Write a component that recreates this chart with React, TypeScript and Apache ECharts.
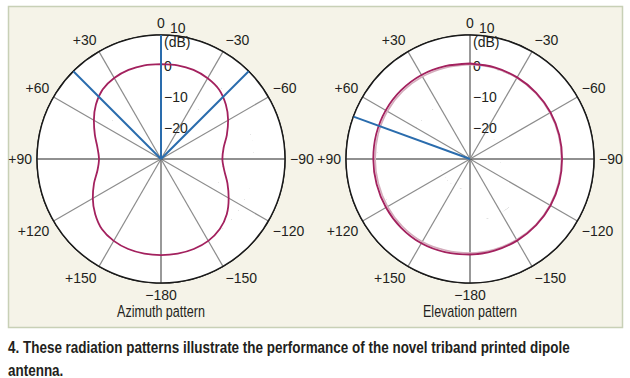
import React, { useEffect, useRef } from 'react';
import * as echarts from 'echarts';

const MINUS = '\u2212';
const FONT = "'Liberation Sans', Arial, sans-serif";

// Angle values: 0 = top, counter-clockwise positive (left side "+"), 180..360 = right side ("−")
const azimuthAngles = [0, 10, 20, 30, 40, 50, 60, 70, 80, 90, 100, 110, 120, 130, 140, 150, 160, 170, 180,
  190, 200, 210, 220, 230, 240, 250, 260, 270, 280, 290, 300, 310, 320, 330, 340, 350, 360];
const azimuthDb = [0.6, 0.7, 0.6, 0.2, -0.7, -2.6, -5.0, -7.3, -9.2, -10.0, -9.2, -7.0, -4.6, -2.3, -0.4, 0.5, 0.9, 1.0, 1.0,
  1.0, 0.9, 0.5, -0.5, -2.3, -4.8, -7.2, -9.3, -10.2, -9.5, -7.4, -5.0, -2.7, -0.8, 0.1, 0.6, 0.7, 0.6];

const elevationAngles = [0, 15, 30, 45, 60, 75, 90, 105, 120, 135, 150, 165, 180,
  195, 210, 225, 240, 255, 270, 285, 300, 315, 330, 345, 360];
const elevationDb = [0.8, 1.0, 1.3, 1.4, 1.4, 1.3, 1.2, 1.2, 1.3, 1.4, 1.4, 1.1, 0.8,
  0.6, 0.4, 0.2, 0.0, -0.2, -0.3, -0.2, 0.0, 0.2, 0.4, 0.6, 0.8];
const elevationRefDb = [0.5, 0.5, 0.7, 0.8, 0.8, 0.7, 0.6, 0.6, 0.7, 0.8, 0.8, 0.5, 0.3,
  0.2, 0.1, 0.0, -0.2, -0.4, -0.5, -0.4, -0.2, 0.0, 0.2, 0.4, 0.5];

const azimuthMarkers = [0, 45, 315];
const elevationMarkers = [70];

const radiusMin = -30;
const radiusMax = 10;
const radiusStep = 10;

const titles = ['Azimuth pattern', 'Elevation pattern'];
const titleWidths = [88, 94];
const captionLines = [
  '4. These radiation patterns illustrate the performance of the novel triband printed dipole',
  'antenna.',
];
const captionWidth = 562;

function angleLabel(v: number): string {
  if (v === 0) return '0';
  if (v >= 360) return '';
  if (v < 180) return '+' + v;
  if (v === 180) return MINUS + '180';
  return MINUS + (360 - v);
}

function radiusLabel(v: number): string {
  if (v === radiusMin) return '';
  if (v === radiusMax) return '{a|10}\n{b|(dB)}';
  if (v < 0) return MINUS + (-v);
  return String(v);
}

function measure(text: string, font: string): number {
  const c = document.createElement('canvas').getContext('2d');
  if (!c) return text.length * 7;
  c.font = font;
  return c.measureText(text).width;
}

const spokeColors = ['#555', '#8c8c8c', '#8c8c8c', '#222', '#8c8c8c', '#8c8c8c', '#555', '#8c8c8c', '#8c8c8c', '#222', '#8c8c8c', '#8c8c8c', '#555'];

export default function App() {
  const ref = useRef<HTMLDivElement>(null);
  useEffect(() => {
    if (!ref.current) return;
    const chart = echarts.init(ref.current, undefined, { renderer: 'svg' });
    const centers = [[161, 159], [470, 159]];
    const polar = centers.map((c) => ({ center: c, radius: 124 }));
    const angleAxis = centers.map((_, i) => ({
      polarIndex: i,
      type: 'value',
      min: 0,
      max: 360,
      interval: 30,
      startAngle: 90,
      clockwise: false,
      axisLine: { show: true, lineStyle: { color: '#1a1a1a', width: 1.5 } },
      axisTick: { show: false },
      axisLabel: { formatter: angleLabel, color: '#231f20', fontFamily: FONT, fontSize: 14, margin: 5 },
      splitLine: { show: true, lineStyle: { color: spokeColors, width: 1.2 } },
    }));
    const radiusAxis = centers.map((_, i) => ({
      polarIndex: i,
      type: 'value',
      min: radiusMin,
      max: radiusMax,
      interval: radiusStep,
      axisLine: { show: false },
      axisTick: { show: false },
      axisLabel: {
        margin: -3,
        align: 'left',
        formatter: radiusLabel,
        color: '#231f20',
        fontFamily: FONT,
        fontSize: 14,
        rich: {
          a: { fontFamily: FONT, fontSize: 14, color: '#231f20', padding: [0, 0, 0, 6], lineHeight: 14 },
          b: { fontFamily: FONT, fontSize: 14, color: '#231f20', lineHeight: 14 },
        },
      },
      splitLine: { show: true, lineStyle: { color: ['#8c8c8c', '#8c8c8c', '#8c8c8c', '#8c8c8c', '#1a1a1a'], width: 1.2 } },
      splitArea: { show: true, areaStyle: { color: ['#ffffff'] } },
    }));

    const series: any[] = [];
    series.push({
      type: 'line', coordinateSystem: 'polar', polarIndex: 0, smooth: 0.3, showSymbol: false,
      data: azimuthAngles.map((a, i) => [azimuthDb[i], a]),
      lineStyle: { color: '#a3215e', width: 1.8 }, z: 3,
    });
    series.push({
      type: 'line', coordinateSystem: 'polar', polarIndex: 1, smooth: 0.3, showSymbol: false,
      data: elevationAngles.map((a, i) => [elevationRefDb[i], a]),
      lineStyle: { color: '#d4acbc', width: 1.6 }, z: 3,
    });
    series.push({
      type: 'line', coordinateSystem: 'polar', polarIndex: 1, smooth: 0.3, showSymbol: false,
      data: elevationAngles.map((a, i) => [elevationDb[i], a]),
      lineStyle: { color: '#a3215e', width: 1.8 }, z: 3,
    });
    [azimuthMarkers, elevationMarkers].forEach((list, pi) => {
      list.forEach((a) => {
        series.push({
          type: 'line', coordinateSystem: 'polar', polarIndex: pi, showSymbol: false,
          data: [[radiusMin, a], [radiusMax, a]],
          lineStyle: { color: '#2a6cad', width: 2 }, z: 4,
        });
      });
    });

    const titleFont = `17px ${FONT}`;
    const capFont = `bold 17px ${FONT}`;
    const capScale = captionWidth / measure(captionLines[0], capFont);

    const graphic: any[] = [
      {
        type: 'rect', z: -10, silent: true,
        shape: { x: 8.5, y: 6.5, width: 614, height: 321 },
        style: { fill: '#f5f3e8', stroke: '#c8d0b6', lineWidth: 1.5 },
      },
    ];
    titles.forEach((t, i) => {
      const s = titleWidths[i] / measure(t, titleFont);
      graphic.push({
        type: 'text', x: centers[i][0], y: 311, z: 5, scaleX: s,
        style: { text: t, font: titleFont, fill: '#231f20', textAlign: 'center', textVerticalAlign: 'middle', align: 'center', verticalAlign: 'middle' },
      });
    });
    captionLines.forEach((t, i) => {
      graphic.push({
        type: 'text', x: 8, y: 347 + i * 23, z: 5, scaleX: capScale,
        style: { text: t, font: capFont, fill: '#231f20', textAlign: 'left', textVerticalAlign: 'middle', align: 'left', verticalAlign: 'middle' },
      });
    });

    chart.setOption({
      animation: false,
      backgroundColor: '#ffffff',
      polar,
      angleAxis,
      radiusAxis,
      series,
      graphic,
    });
    return () => chart.dispose();
  }, []);
  return <div ref={ref} style={{ position: 'absolute', left: 0, top: 0, width: 630, height: 378 }} />;
}
